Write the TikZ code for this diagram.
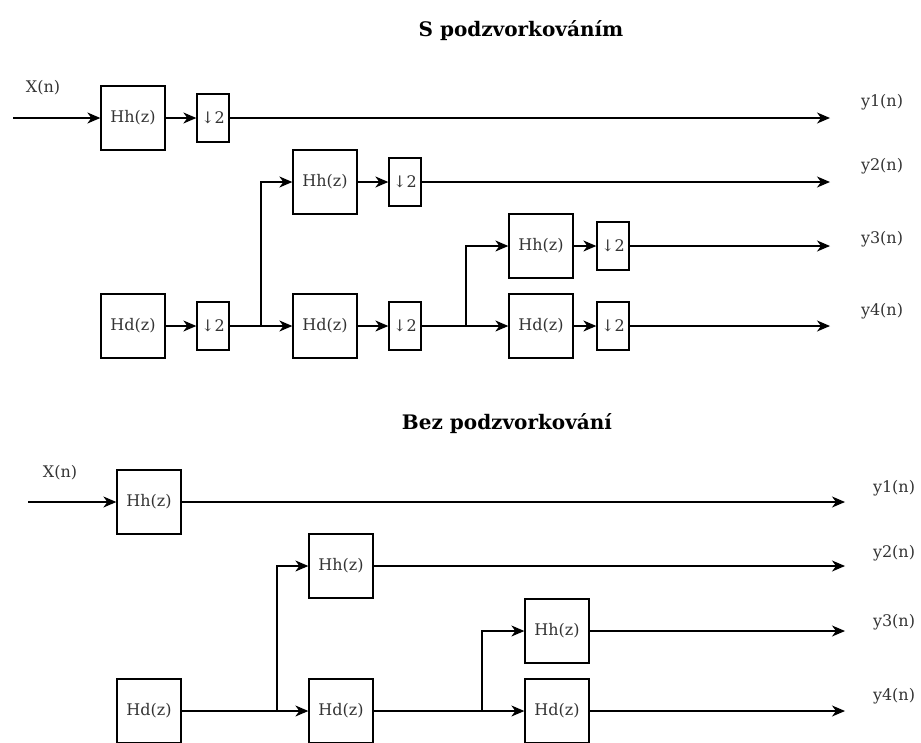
\documentclass[tikz,border=0pt]{standalone}
\usepackage{fontspec}
\setmainfont{DejaVu Serif}
\usetikzlibrary{arrows.meta}
\definecolor{txt}{HTML}{333333}
\tikzset{
  blk/.style={draw=black, line width=1.3pt, fill=white, minimum width=64pt, minimum height=64pt, inner sep=0pt, text=txt, font=\fontsize{16}{19}\selectfont},
  dsb/.style={draw=black, line width=1.3pt, fill=white, minimum width=32pt, minimum height=48pt, inner sep=0pt, text=txt, font=\fontsize{16}{19}\selectfont},
  lbl/.style={text=txt, font=\fontsize{16}{19}\selectfont, inner sep=0pt},
  ttl/.style={text=black, font=\bfseries\fontsize{20}{24}\selectfont, inner sep=0pt},
  wire/.style={line width=1.3pt, draw=black},
  arr/.style={wire, -{Stealth[length=13pt,width=11pt,inset=4pt]}},
}
\begin{document}
\begin{tikzpicture}[x=1pt,y=-1pt]
\useasboundingbox (0,0) rectangle (921,742);
% ---------- top: S podzvorkovanim ----------
\node[ttl] (t1) at (521,31) {S podzvorkováním};
\node[lbl] (xn1) at (43,88) {X(n)};
\coordinate (in1) at (13,118);
\node[blk] (hh1) at (133,118) {Hh(z)};
\node[dsb] (ds1) at (213,118) {↓2};
\node[blk] (hh2) at (325,182) {Hh(z)};
\node[dsb] (ds2) at (405,182) {↓2};
\node[blk] (hd1) at (133,326) {Hd(z)};
\node[dsb] (ds3) at (213,326) {↓2};
\coordinate (b1) at (261,326);
\node[blk] (hd2) at (325,326) {Hd(z)};
\node[dsb] (ds4) at (405,326) {↓2};
\coordinate (b2) at (466,326);
\node[blk] (hh3) at (541,246) {Hh(z)};
\node[dsb] (ds5) at (613,246) {↓2};
\node[blk] (hd3) at (541,326) {Hd(z)};
\node[dsb] (ds6) at (613,326) {↓2};
\coordinate (o1) at (830,118);
\coordinate (o2) at (830,182);
\coordinate (o3) at (830,246);
\coordinate (o4) at (830,326);
\node[lbl] (y1) at (882,102) {y1(n)};
\node[lbl] (y2) at (882,166) {y2(n)};
\node[lbl] (y3) at (882,239) {y3(n)};
\node[lbl] (y4) at (882,311) {y4(n)};

\draw[arr] (in1) -- (hh1.west);
\draw[arr] (hh1) -- (ds1);
\draw[arr] (ds1) -- (o1);
\draw[arr] (hh2) -- (ds2);
\draw[arr] (ds2) -- (o2);
\draw[arr] (hd1) -- (ds3);
\draw[wire] (ds3) -- (b1);
\draw[arr] (b1) |- (hh2.west);
\draw[arr] (b1) -- (hd2.west);
\draw[arr] (hd2) -- (ds4);
\draw[wire] (ds4) -- (b2);
\draw[arr] (b2) |- (hh3.west);
\draw[arr] (b2) -- (hd3.west);
\draw[arr] (hh3) -- (ds5);
\draw[arr] (ds5) -- (o3);
\draw[arr] (hd3) -- (ds6);
\draw[arr] (ds6) -- (o4);

% ---------- bottom: Bez podzvorkovani ----------
\node[ttl] (t2) at (507,424) {Bez podzvorkování};
\node[lbl] (xn2) at (60,473) {X(n)};
\coordinate (in2) at (28,502);
\node[blk] (HH1) at (149,502) {Hh(z)};
\node[blk] (HH2) at (341,566) {Hh(z)};
\node[blk] (HD1) at (149,711) {Hd(z)};
\coordinate (c1) at (277,711);
\node[blk] (HD2) at (341,711) {Hd(z)};
\coordinate (c2) at (482,711);
\node[blk] (HH3) at (557,631) {Hh(z)};
\node[blk] (HD3) at (557,711) {Hd(z)};
\coordinate (p1) at (845,502);
\coordinate (p2) at (845,566);
\coordinate (p3) at (845,631);
\coordinate (p4) at (845,711);
\node[lbl] (z1) at (894,488) {y1(n)};
\node[lbl] (z2) at (894,553) {y2(n)};
\node[lbl] (z3) at (894,622) {y3(n)};
\node[lbl] (z4) at (894,696) {y4(n)};

\draw[arr] (in2) -- (HH1.west);
\draw[arr] (HH1) -- (p1);
\draw[arr] (HH2) -- (p2);
\draw[wire] (HD1) -- (c1);
\draw[arr] (c1) |- (HH2.west);
\draw[arr] (c1) -- (HD2.west);
\draw[wire] (HD2) -- (c2);
\draw[arr] (c2) |- (HH3.west);
\draw[arr] (c2) -- (HD3.west);
\draw[arr] (HH3) -- (p3);
\draw[arr] (HD3) -- (p4);
\end{tikzpicture}
\end{document}
